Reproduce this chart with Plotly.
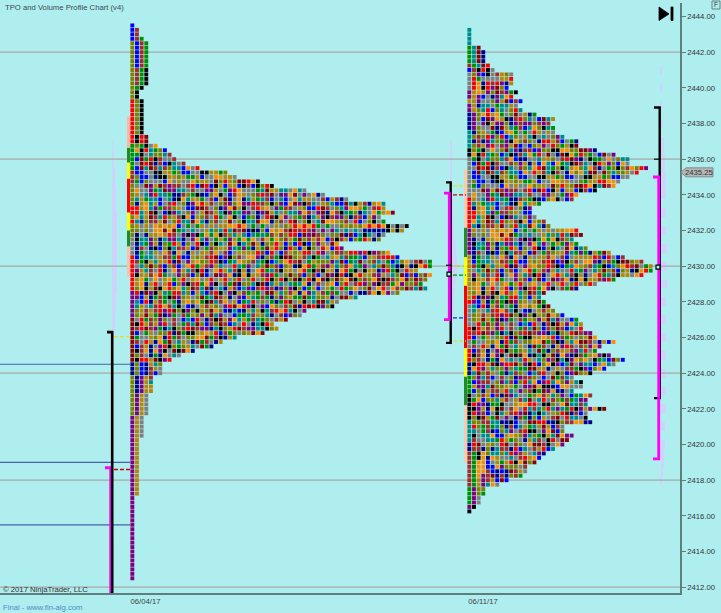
import plotly.graph_objects as go

# ---------- data ----------
P1_TOP_PRICE = 2443.5
P2_TOP_PRICE = 2443.25
TICK = 0.25
# TPO count per price row, from the top row downwards
p1_counts = [1,2,2,3,4,4,4,4,4,4,4,4,4,4,3,2,2,3,3,3,3,3,3,3,3,4,4,6,8,9,10,12,15,21,23,28,31,38,42,47,
             55,55,57,54,55,60,59,55,54,45,46,56,58,65,65,62,65,64,63,64,58,49,45,44,38,37,34,31,32,29,
             23,20,18,14,11,9,7,7,7,5,5,5,5,4,4,4,4,4,3,3,3,3,3,2,2,2,2,2,2,2,2,2,2,2,2,2,
             1,1,1,1,1,1,1,1,1,1,1,1,1,1,1,1,1,1,1]
p2_counts = [1,1,1,1,3,4,4,4,5,6,10,10,10,9,11,10,12,11,12,15,19,18,19,19,21,24,24,28,32,35,35,39,37,35,33,32,28,24,23,16,
             14,14,15,17,18,24,25,23,24,26,31,34,38,40,40,38,32,28,24,17,16,17,18,19,21,24,25,25,27,28,32,29,28,31,34,32,30,27,23,25,
             25,23,27,26,26,30,26,26,27,21,21,23,22,21,19,17,16,15,13,13,12,9,7,4,4,3,3,2,1]
# colour runs per column: column -> list of (first row, runs)
p1_runs = {0:[(0,"B4 O13 R10 G6 W3 O5 R2 O1 R1 O3 S4 R8 P6 D10 N3 O9 P37")],
           1:[(1,"W3 B6 W4 G1 K2 O8 K2"),(76,"O3 N4 P5 Y18")],
           2:[(3,"G1 W6 G4 K1"),(17,"K8 R1 R1"),(76,"B3 P4 Y5 S5")],
           3:[(4,"G6 K4"),(25,"D2"),(76,"N3 Y4 S5")]}
p2_runs = {0:[(0,"T4 G4 W1 B1 S4 P2 Y1 P2 N4 T4 K2 S9 R7 P6 Y10 R1 S5 R3 S2 R3 N3 G4 K6 T5 N2 W8 G4 P1 K1")],
           1:[(4,"T4 G1 W1 O1 R3 Y5 P4"),(95,"G8 P4 K1")],
           2:[(4,"D4 T1 K1"),(95,"K2 A4 Y2 O2")],
           3:[(5,"N3 D1 R1"),(95,"A5 P3 O1")]}
palette = {"B":"#0000ff","N":"#00008b","R":"#ff0000","D":"#8b0000","W":"#a52a2a","G":"#008f00","K":"#000000",
           "T":"#008b8b","P":"#800080","O":"#808000","Y":"#b8860b","A":"#ff8c00","S":"#808080"}
cycle = "SOYARDWTNBPGKSYOADTWRPNBGSKOSTYW"

grid_levels = [2442,2436,2430,2424,2418,2412]
navy_levels = [2424.5,2419.0,2415.5]
tick_levels = list(range(2412,2446,2))
date_labels = ["06/04/17","06/11/17"]

# period bands beside each profile: (top price, bottom price, colour)
p1_bands = [(2438.39,2436.63,"#ffb6a0"),(2436.63,2435.8,"#228b22"),(2435.8,2434.9,"#ffff00"),(2434.9,2433.0,"#ff0000"),
            (2433.0,2432.0,"#ffff00"),(2432.0,2431.1,"#228b22"),(2431.1,2429.4,"#ffc0a8")]
p2_bands = [(2435.4,2432.15,"#ffc8a8"),(2432.15,2430.5,"#228b22"),(2430.5,2428.9,"#ffff00"),(2428.9,2425.4,"#ff0000"),
            (2425.4,2423.8,"#ffff00"),(2423.8,2422.2,"#228b22"),(2422.2,2419.0,"#ffc8a8")]

# faint volume profiles (price, relative width)
v1_price = [2436.75,2436.25,2435.75,2435.25,2434.75,2434.25,2433.75,2433.25,2432.75,2432.25,2431.75,2431.25,2430.75,2430.25,2429.75,2429.25,2428.75,2428.25,2427.75,2427.25,2426.75,2426.25,2422.25,2422.0,2414.25,2413.75,2413.25,2412.75,2412.25,2411.75]
v1_width = [1,1.5,2,2.5,3,4,4,4,4.5,4.5,5,5,5,5,4.5,4.5,4.5,4,3.5,3,2.5,2,1,1,1.5,1.5,2,2,2,2]
v2_price = [2436.75,2436.25,2435.75,2435.25,2434.75,2434.25,2433.75,2433.25,2432.75,2432.25,2431.75,2431.25,2430.75,2430.25,2429.75,2429.25,2428.75,2428.25,2427.75,2427.25,2426.75,2426.25,2425.75]
v2_width = [1,1,1,1,1.5,1.5,2,2,2.5,3,3.5,4,5,6,6,5,4,3.5,3,2.5,2,1.5,1]
v3_price = [2441.0,2440.0,2439.0,2438.0,2437.0,2436.5,2436.0,2435.5,2435.0,2434.5,2434.0,2433.0,2432.0,2431.0,2430.0,2429.0,2428.0,2427.0,2426.0,2425.0,2424.0,2423.0,2422.0,2421.0,2420.0,2419.5,2419.0,2418.5,2418.0]
v3_width = [1,1,1.5,2,3,3.5,4,4.5,5,5,5,5,5,6,6,6,5,5,5,5,5,5,5,4.5,4,3.5,3,2,1]

# ---------- layout constants ----------
W, H = 721, 613
PLOT_R, PLOT_T, PLOT_B = 680, 3, 593.5
PX_PER_PT = 17.85
Y_TOP = 2444 + (16.5-PLOT_T)/PX_PER_PT
Y_BOT = 2444 - (PLOT_B-16.5)/PX_PER_PT
P1_LEFT, P2_LEFT, PITCH = 130.0, 467.0, 4.65
BG = "#afeeee"
FONT = "Liberation Sans"
TXT = 7.7

def build(counts, top, left, runs):
    parsed = {}
    for col, blocks in runs.items():
        for first, text in blocks:
            r = first
            for token in text.split():
                for _ in range(int(token[1:])):
                    parsed[(r, col)] = token[0]
                    r += 1
    xs, ys, cs = [], [], []
    L = len(cycle)
    for r, n in enumerate(counts):
        for c in range(n):
            key = parsed.get((r, c))
            if key is None:
                key = cycle[(c*13 + (r//3)*(c % 5 + 3) + (c*r)//11 + ((r*r)//7)*(c % 2)) % L]
            xs.append(left + PITCH*(c+0.5))
            ys.append(top - TICK*r)
            cs.append(palette[key])
    return xs, ys, cs

fig = go.Figure()

def line(xs, ys, color, width=1, dash=None):
    fig.add_trace(go.Scatter(x=xs, y=ys, mode="lines", hoverinfo="skip", showlegend=False,
                             line=dict(color=color, width=width, dash=dash)))

for lvl in grid_levels:
    line([0, PLOT_R], [lvl, lvl], "#a8a8a8", 1.2)
for lvl in navy_levels:
    line([0, 130], [lvl, lvl], "#4a5fa8", 1.2)

for left, price, width in [(112, v1_price, v1_width), (450.5, v2_price, v2_width), (660.5, v3_price, v3_width)]:
    fig.add_trace(go.Bar(y=price, x=width, base=left, orientation="h", width=0.5, showlegend=False,
                         marker=dict(color="#cdd3fa", line=dict(width=0)), hoverinfo="skip"))

for bands, x in [(p1_bands, 128.5), (p2_bands, 465.5)]:
    for top, bot, col in bands:
        line([x, x], [top, bot], col, 3)

# value-area brackets and dashed level markers
BL, MG = "#000000", "#ff00ff"
line([105,110.8,110.8], [2418.7,2418.7,Y_BOT], MG, 3)
line([107,112.2,112.2], [2426.3,2426.3,Y_BOT], BL, 2.6)
line([114,130], [2426.05,2426.05], "#e8e020", 1.3, "4px,2px")
line([114,130], [2418.6,2418.6], "#cc0000", 1.3, "4px,2px")
line([446,450.7,450.7,446], [2434.7,2434.7,2425.7,2425.7], BL, 2.4)
line([444,449.3,449.3,444], [2434.1,2434.1,2427.0,2427.0], MG, 2.8)
line([446,451], [2430.05,2430.05], BL, 1.2)
for lvl, col in [(2434.5,"#e8e020"),(2434.0,"#cc0000"),(2430.0,"#e8e020"),(2429.5,"#008f00"),(2427.1,"#1030e0"),(2425.8,"#e8e020")]:
    line([453,466], [lvl,lvl], col, 1.3, "4px,2px")
line([654,659.7,659.7,654], [2438.9,2438.9,2422.6,2422.6], BL, 2.4)
line([654,659], [2436.0,2436.0], BL, 1.2)
line([653,658.7,658.7,653], [2435.0,2435.0,2419.2,2419.2], MG, 2.8)
fig.add_trace(go.Scatter(x=[449,658], y=[2429.55,2429.95], mode="markers", showlegend=False, hoverinfo="skip",
                         marker=dict(symbol="square", size=4, color=BG, line=dict(color="black", width=1.2))))

for counts, top, left, runs in [(p1_counts, P1_TOP_PRICE, P1_LEFT, p1_runs), (p2_counts, P2_TOP_PRICE, P2_LEFT, p2_runs)]:
    xs, ys, cs = build(counts, top, left, runs)
    fig.add_trace(go.Scatter(x=xs, y=ys, mode="markers", showlegend=False, hoverinfo="skip",
                             marker=dict(symbol="square", size=3.9, color=cs, line=dict(width=0))))

def px(x): return x/PLOT_R
def py(y): return (PLOT_B-y)/(PLOT_B-PLOT_T)

def text(s, x, y, size, color, anchor="left", **kw):
    fig.add_annotation(text=s, x=px(x), y=py(y), xref="paper", yref="paper", showarrow=False,
                       xanchor=anchor, yanchor="middle", font=dict(size=size, color=color, family=FONT), **kw)

text("TPO and Volume Profile Chart (v4)", 3, 8, TXT, "#3a4a55")
text("© 2017 NinjaTrader, LLC", 0.5, 590, TXT, "#333333")
text("Final - www.fin-alg.com", 0.5, 608, TXT, "#4a8cc8")

def path(pts, fill, line_col=None):
    d = "M " + " L ".join(f"{px(a):.5f} {py(b):.5f}" for a, b in pts) + " Z"
    fig.add_shape(type="path", path=d, xref="paper", yref="paper", fillcolor=fill,
                  line=dict(color=line_col or fill, width=0.8), layer="above")

path([(659,7),(669,14),(659,20.5)], "#000000")
path([(671,7),(673,7),(673,20.5),(671,20.5)], "#000000")
path([(681,172.5),(686,168),(713,168),(713,177),(686,177)], "#b4b8b8", "#777777")
path([(712,1),(720,1),(720,9),(712,9)], BG, "#556666")
text("2435.25", 699, 172.5, TXT, "#333333", "center")
text("F", 716, 5, 6.5, "#333333", "center")

fig.update_layout(
    width=W, height=H, margin=dict(l=0, r=W-PLOT_R, t=PLOT_T, b=H-PLOT_B, pad=0),
    paper_bgcolor=BG, plot_bgcolor=BG, barmode="overlay", showlegend=False, bargap=0,
    font=dict(family=FONT, size=TXT, color="#333333"),
    xaxis=dict(range=[0, PLOT_R], showgrid=False, zeroline=False, showline=True, linecolor="#5f7f7f", linewidth=2,
               tickmode="array", tickvals=[145.5, 483], ticktext=date_labels, ticks="", tickfont=dict(size=TXT, color="#444444")),
    yaxis=dict(range=[Y_BOT, Y_TOP], side="right", showgrid=False, zeroline=False, showline=True, linecolor="#5f7f7f", linewidth=1.5,
               tickmode="array", tickvals=tick_levels, tickformat=".2f", ticks="outside", ticklen=4, tickcolor="#5f7f7f",
               tickfont=dict(size=TXT, color="#333333")),
)
fig.write_html("out.html", config=dict(displayModeBar=False),
               post_script="document.body.style.margin='0';document.documentElement.style.overflow='hidden';")
